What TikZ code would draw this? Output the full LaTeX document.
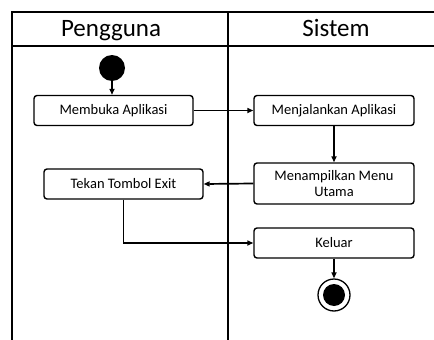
\documentclass[tikz,border=0pt]{standalone}
\usepackage{fontspec}
\setmainfont{Carlito}
\usetikzlibrary{arrows.meta,positioning}

\begin{document}
\begin{tikzpicture}[x=1pt,y=-1pt,
    aksi/.style={draw,rounded corners=3pt,line width=1.4pt,minimum width=160pt,minimum height=30pt,inner sep=2pt,align=center,font=\fontsize{14.5}{16}\selectfont},
    judul/.style={anchor=base,font=\fontsize{25}{27}\selectfont},
    alur/.style={line width=1.7pt,-{Triangle[length=6pt,width=5pt]}}]
    \useasboundingbox (0,0) rectangle (434,340);
    \draw[line width=1.7pt] (12,340) -- (12,12) -- (434,12) (12,46) -- (434,46) (228,12) -- (228,340);
    \node[judul] (pengguna) at (111,36) {Pengguna};
    \node[judul] (sistem) at (336,36) {Sistem};
    \node[circle,fill,inner sep=0pt,minimum size=26pt] (mulai) at (112,68) {};
    \node[aksi,minimum width=159pt] (membuka) at (113.5,110.5) {Membuka Aplikasi};
    \node[aksi] (menjalankan) at (334,110.5) {Menjalankan Aplikasi};
    \node[aksi,minimum height=41pt] (menampilkan) at (334,183.5) {Menampilkan Menu\\Utama};
    \node[aksi,minimum width=159pt] (tekan) at (123.5,184) {Tekan Tombol Exit};
    \node[aksi] (keluar) at (334,243) {Keluar};
    \node[circle,draw,line width=1.3pt,inner sep=0pt,minimum size=32pt] (selesai) at (334,295) {};
    \node[circle,fill,inner sep=0pt,minimum size=22pt] (titik) at (selesai) {};
    \draw[alur] (mulai) -- (mulai |- membuka.north);
    \draw[alur] (membuka) -- (menjalankan);
    \draw[alur] (menjalankan) -- (menampilkan);
    \draw[alur] (menampilkan.west) -- (tekan.east);
    \draw[alur] (tekan) |- (keluar);
    \draw[alur] (keluar) -- (selesai);
\end{tikzpicture}
\end{document}
